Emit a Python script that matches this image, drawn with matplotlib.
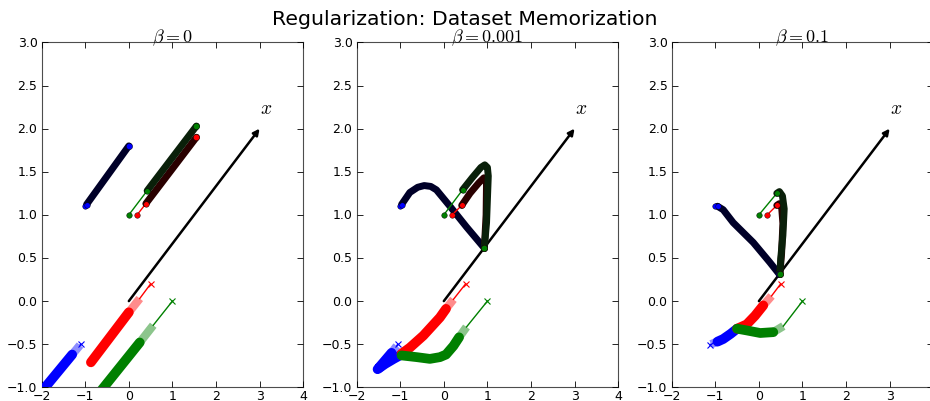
import numpy as np
import matplotlib
matplotlib.use("Agg")
import matplotlib.pyplot as plt

# Panel titles (regularization strength)
BETAS = ["0", "0.001", "0.1"]

# Direction vector x (same in every panel)
ARROW_X = [0.0, 3.0]
ARROW_Y = [0.0, 2.0]
ARROW_LABEL_XY = (3.14, 2.25)

# 'o' trajectories (upper group), one list per panel: start, first step, then dense path
O_BLUE_X = [
    [-1.0, -0.97, 0.0],
    [-1.0, -0.97, -0.78, -0.6, -0.45, -0.3, -0.17, 0.14, 0.52, 0.92],
    [-1.0, -0.95, -0.82, -0.59, -0.13, 0.25, 0.47],
]
O_BLUE_Y = [
    [1.1, 1.12, 1.8],
    [1.1, 1.12, 1.26, 1.32, 1.34, 1.33, 1.29, 1.1, 0.86, 0.62],
    [1.1, 1.1, 1.06, 0.91, 0.68, 0.45, 0.31],
]
O_GREEN_X = [
    [0.0, 0.42, 1.55],
    [0.0, 0.43, 0.65, 0.85, 0.94, 1.0, 1.02, 0.98, 0.93],
    [0.0, 0.41, 0.47, 0.54, 0.58, 0.55, 0.5, 0.48],
]
O_GREEN_Y = [
    [1.0, 1.28, 2.03],
    [1.0, 1.29, 1.43, 1.55, 1.58, 1.55, 1.45, 0.91, 0.62],
    [1.0, 1.25, 1.27, 1.22, 1.07, 0.76, 0.49, 0.31],
]
O_RED_X = [
    [0.19, 0.39, 1.55],
    [0.19, 0.41, 0.6, 0.8, 0.92, 0.98, 0.97, 0.93],
    [0.19, 0.41, 0.47, 0.52, 0.55, 0.52, 0.48],
]
O_RED_Y = [
    [1.0, 1.13, 1.9],
    [1.0, 1.11, 1.25, 1.37, 1.43, 1.4, 1.0, 0.62],
    [1.0, 1.11, 1.13, 1.1, 0.9, 0.55, 0.31],
]

# 'x' trajectories (lower group): start, first step, faint stretch, then dense path
X_BLUE_X = [
    [-1.1, -1.12, -1.3, -2.1],
    [-1.06, -1.08, -1.2, -1.52, -1.35, -1.15, -0.97],
    [-1.12, -1.1, -0.95, -0.82, -0.65, -0.5],
]
X_BLUE_Y = [
    [-0.5, -0.51, -0.62, -1.11],
    [-0.5, -0.52, -0.6, -0.79, -0.73, -0.67, -0.62],
    [-0.51, -0.5, -0.47, -0.44, -0.38, -0.32],
]
X_RED_X = [
    [0.5, 0.25, 0.0, -0.87],
    [0.5, 0.22, 0.05, -0.09, -0.47, -0.78, -0.97],
    [0.5, 0.29, 0.1, -0.09, -0.28, -0.5],
]
X_RED_Y = [
    [0.2, 0.03, -0.13, -0.71],
    [0.2, 0.02, -0.09, -0.19, -0.4, -0.54, -0.61],
    [0.2, 0.06, -0.05, -0.17, -0.27, -0.32],
]
X_GREEN_X = [
    [1.0, 0.56, 0.25, -0.75],
    [1.0, 0.52, 0.35, 0.22, 0.05, -0.09, -0.32, -0.62, -0.97],
    [1.0, 0.56, 0.33, 0.03, -0.28, -0.5],
]
X_GREEN_Y = [
    [0.0, -0.28, -0.48, -1.11],
    [0.0, -0.3, -0.42, -0.52, -0.62, -0.65, -0.67, -0.65, -0.63],
    [0.0, -0.29, -0.36, -0.37, -0.34, -0.32],
]

# x tick labels shown per panel (last panel is cut at the figure edge)
XTICKS = [list(range(-2, 5)), list(range(-2, 5)), list(range(-2, 4))]

plt.style.use("classic")
plt.rcParams["mathtext.fontset"] = "cm"
plt.rcParams["figure.facecolor"] = "white"
plt.rcParams["savefig.facecolor"] = "white"


def draw_o_path(ax, xs, ys, color, dark):
    # thin first step, then the dense (dark) part of the path
    ax.plot(xs[:2], ys[:2], "-", color=color, lw=1.0, zorder=4)
    ax.plot(xs[1:], ys[1:], "-", color=dark, lw=5.0, solid_capstyle="round",
            solid_joinstyle="round", zorder=4)
    ax.plot(xs[:2], ys[:2], "o", color=color, ms=4, mec="k", mew=0.3, zorder=5)
    ax.plot(xs[-1:], ys[-1:], "o", color=color, ms=4.5, mec="k", mew=0.3, zorder=5)


def draw_x_path(ax, xs, ys, color):
    ax.plot(xs[:2], ys[:2], "-", color=color, lw=1.0, zorder=3)
    ax.plot(xs[:1], ys[:1], "x", color=color, ms=4, mew=0.8, zorder=3)
    ax.plot(xs[1:3], ys[1:3], "-", color=color, lw=6.0, alpha=0.45,
            solid_capstyle="butt", zorder=3)
    ax.plot(xs[2:], ys[2:], "-", color=color, lw=7.0, solid_capstyle="round",
            solid_joinstyle="round", zorder=3)


def main():
    fig = plt.figure(figsize=(9.3, 4.02), dpi=100)
    lefts = [0.0448, 0.3835, 0.7223]
    for i, beta in enumerate(BETAS):
        ax = fig.add_axes([lefts[i], 0.034, 0.2812, 0.858])

        draw_x_path(ax, X_BLUE_X[i], X_BLUE_Y[i], "b")
        draw_x_path(ax, X_RED_X[i], X_RED_Y[i], "r")
        draw_x_path(ax, X_GREEN_X[i], X_GREEN_Y[i], "g")

        ax.annotate("", xy=(ARROW_X[1], ARROW_Y[1]), xytext=(ARROW_X[0], ARROW_Y[0]),
                    arrowprops=dict(arrowstyle="-|>", color="k", lw=1.8,
                                    mutation_scale=9, shrinkA=0, shrinkB=0))
        ax.text(ARROW_LABEL_XY[0], ARROW_LABEL_XY[1], r"$x$", fontsize=14,
                ha="center", va="center")

        draw_o_path(ax, O_BLUE_X[i], O_BLUE_Y[i], "b", "#000028")
        draw_o_path(ax, O_RED_X[i], O_RED_Y[i], "r", "#2a0000")
        draw_o_path(ax, O_GREEN_X[i], O_GREEN_Y[i], "g", "#0a200a")

        ax.set_xlim(-2, 4)
        ax.set_ylim(-1, 3)
        ax.set_xticks(XTICKS[i])
        ax.set_yticks(np.arange(-1, 3.01, 0.5))
        ax.tick_params(direction="in", length=4, labelsize=9, width=0.6)
        ax.tick_params(axis="x", pad=1.5)
        ax.tick_params(axis="y", pad=3)
        for sp in ax.spines.values():
            sp.set_linewidth(0.8)
            sp.set_color("0.3")
        ax.set_title(r"$\beta = %s$" % beta, fontsize=13, pad=1.0)

    fig.suptitle("Regularization: Dataset Memorization", fontsize=14.7, y=0.975)
    fig.savefig("out.png", dpi=100)


if __name__ == "__main__":
    main()
